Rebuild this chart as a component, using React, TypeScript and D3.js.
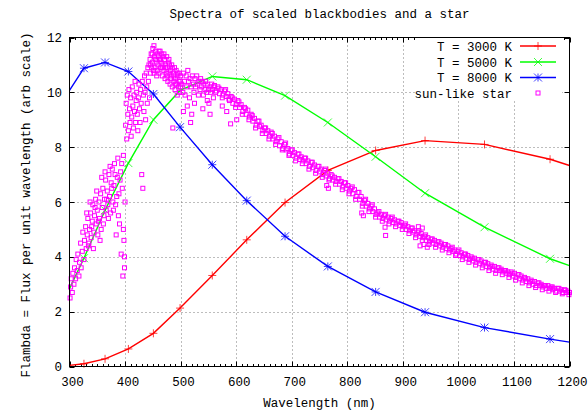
import React from "react";
import * as d3 from "d3";

const W = 588;
const H = 412;

const titleText = "Spectra of scaled blackbodies and a star";
const xLabelText = "Wavelength (nm)";
const yLabelText = "Flambda = Flux per unit wavelength (arb scale)";

const xTicks = [300, 400, 500, 600, 700, 800, 900, 1000, 1100, 1200];
const yTicks = [0, 2, 4, 6, 8, 10, 12];

// Sampled wavelengths of blackbody curves (first/last are the plot-edge values)
const bbWavelength = [300, 326, 364, 406, 451, 499, 557, 619, 688, 765, 851, 940, 1047, 1165, 1200];
const flux3000 = [0.04, 0.1, 0.28, 0.64, 1.21, 2.13, 3.32, 4.62, 5.98, 7.15, 7.88, 8.24, 8.1, 7.56, 7.33];
const flux5000 = [2.84, 3.95, 5.7, 7.42, 9.0, 10.07, 10.58, 10.46, 9.88, 8.9, 7.65, 6.32, 5.08, 3.93, 3.68];
const flux8000 = [10.07, 10.88, 11.09, 10.76, 9.94, 8.73, 7.36, 6.05, 4.75, 3.65, 2.72, 1.98, 1.42, 1.0, 0.89];

const seriesLabels = ["T = 3000 K", "T = 5000 K", "T = 8000 K", "sun-like star"];

// sun-like star spectrum [wavelength nm, flux]
const starPoints: [number, number][] = [
  [301,2.5],[302,2.9],[303,3.2],[305,2.7],[306,3.4],[308,3.0],[309,3.6],[311,3.2],[312,3.9],[314,3.5],[315,4.1],[317,3.3],[318,3.8],[320,4.5],[321,3.6],[323,4.2],[324,4.9],[326,3.9],[327,4.6],[329,5.1],[330,4.3],
  [332,4.8],[333,5.4],[335,4.5],[336,5.0],[338,5.6],[339,4.7],[341,5.3],[342,5.9],[344,4.9],[345,5.5],[347,6.1],[348,5.2],[350,5.7],[351,4.8],[353,6.0],[354,5.4],[356,6.3],[357,5.0],[359,5.8],[360,6.5],[362,5.5],[363,6.1],[365,6.8],[366,5.7],[368,6.4],[369,5.9],[371,7.0],[372,6.2],[374,5.6],[375,6.7],[377,7.2],[378,6.0],[380,6.6],[381,7.4],[383,5.9],[384,4.8],[386,6.9],[387,7.6],[389,6.3],[390,5.2],[392,7.1],[393,4.1],[395,6.5],[396,3.3],[397,7.7],[398,4.6],[399,3.6],[400,6.0],
  [401,8.8],[402,9.6],[403,8.3],[404,9.9],[405,9.2],[406,8.6],[407,10.1],[408,9.4],[409,8.9],[410,9.8],[411,8.4],[412,9.1],[413,10.2],[414,9.5],[415,8.7],[416,9.9],[417,9.3],[418,10.4],[419,8.9],[420,9.7],[421,10.0],[422,9.2],[423,8.6],[424,9.8],[425,10.3],[426,9.4],[427,8.9],[428,10.1],[429,9.6],[430,7.0],[431,10.4],[432,6.5],[433,9.9],[434,9.3],[435,10.6],[436,10.0],[437,9.0],[438,10.7],[439,10.2],[440,9.6],[441,10.9],[442,10.4],[443,11.0],[444,9.8],
  [445,11.2],[446,10.7],[447,11.4],[448,10.9],[449,11.1],[450,11.6],[451,10.8],[452,11.7],[453,11.3],[454,10.9],[455,11.5],[456,11.1],[457,10.6],[458,11.4],[459,11.0],[460,11.3],[461,10.7],[462,11.2],[463,11.5],[464,10.9],[465,11.1],[466,11.4],[467,10.6],[468,11.0],[469,11.3],[470,10.8],[471,11.2],[472,10.5],[473,11.0],[474,10.7],[475,11.3],[476,10.9],[477,10.4],[478,11.1],[479,10.7],[480,11.0],[481,10.3],[482,10.8],[483,10.6],[484,11.0],[485,10.2],[486,8.7],[487,10.7],[488,10.4],[489,10.9],[490,10.1],[491,10.5],[492,10.8],[493,10.3],[494,9.9],[495,10.6],[496,10.2],[497,10.7],[498,10.0],[499,10.4],[500,10.6],
  [502,10.3],[504,10.0],[505,10.7],[507,10.4],[508,9.9],[510,10.6],[511,10.2],[513,10.8],[514,10.4],[516,9.8],[517,10.5],[518,8.9],[519,10.2],[520,9.2],[521,10.6],[523,10.3],[524,10.0],[526,10.5],[527,10.2],[529,10.6],[530,10.3],[532,9.9],[533,10.4],[535,10.1],[536,10.5],[538,10.2],[539,10.4],[541,9.9],[542,10.3],[544,10.1],[545,10.4],[547,10.0],[548,10.3],[550,10.1],[551,9.6],[553,10.2],[554,10.0],[556,10.3],[557,10.1],[559,9.8],[560,10.2],
  [561,10.25],[564,10.05],[567,10.2],[570,9.95],[573,10.1],[576,9.9],[579,10.05],[582,9.85],[585,9.95],[588,9.7],[590,8.85],[591,9.85],[594,9.6],[597,9.75],[600,9.55],[601,9.0],[603,9.7],[606,9.45],[609,9.55],[612,9.3],[615,9.45],[618,9.2],[621,9.35],[624,9.1],[627,9.2],[630,8.95],[633,9.05],[636,8.8],[639,8.95],[642,8.75],[645,8.8],[648,8.6],[651,8.7],[654,8.5],[657,8.6],[660,8.4],[663,8.55],[666,8.3],[669,8.4],[672,8.2],[675,8.3],[678,8.05],[681,8.2],[684,7.95],[687,8.1],[690,7.9],[693,7.95],[696,7.75],[699,7.9],
  [702,7.7],[705,7.8],[708,7.6],[711,7.75],[714,7.55],[717,7.65],[720,7.5],[723,7.6],[726,7.4],[729,7.5],[732,7.3],[735,7.45],[738,7.25],[741,7.35],[744,7.15],[747,7.3],[750,7.1],[753,7.2],[756,7.0],[759,7.15],[762,6.95],[763,6.6],[765,7.05],[766,6.5],[768,6.85],[771,7.0],[774,6.8],[777,6.9],[780,6.75],[783,6.85],[786,6.65],[789,6.75],[792,6.55],[795,6.7],[798,6.5],
  [801,6.6],[804,6.4],[807,6.5],[810,6.3],[813,6.45],[816,6.2],[819,6.35],[822,6.1],[825,6.2],[826,5.6],[828,5.95],[829,5.5],[831,6.05],[834,5.85],[837,5.95],[840,5.75],[843,5.85],[846,5.65],[849,5.75],[852,5.55],[855,5.6],[858,5.45],[861,5.55],[864,5.4],[867,5.5],[868,5.08],[869,4.78],[870,5.35],[873,5.45],[876,5.3],[879,5.4],[882,5.25],[885,5.35],[888,5.2],[891,5.3],[894,5.15],[897,5.25],
  [900,5.1],[903,5.15],[906,5.0],[909,5.1],[912,4.95],[915,5.05],[918,4.9],[921,4.95],[924,4.8],[927,4.9],[928,5.1],[930,4.75],[931,4.4],[933,4.85],[935,5.05],[936,4.7],[938,4.45],[939,4.75],[942,4.6],[944,4.35],[945,4.7],[948,4.55],[951,4.65],[954,4.5],[957,4.6],[960,4.45],[963,4.55],[966,4.4],[969,4.5],[972,4.35],[975,4.45],[978,4.3],[981,4.4],[984,4.25],[987,4.3],[990,4.2],[993,4.25],[996,4.1],[999,4.2],
  [1002,4.05],[1005,4.15],[1008,4.0],[1011,4.1],[1014,3.95],[1017,4.05],[1020,3.9],[1023,4.0],[1026,3.85],[1029,3.95],[1032,3.8],[1035,3.9],[1038,3.75],[1041,3.85],[1044,3.7],[1047,3.8],[1050,3.65],[1053,3.75],[1056,3.6],[1059,3.7],[1062,3.55],[1065,3.65],[1068,3.5],[1071,3.6],[1074,3.5],[1077,3.55],[1080,3.45],[1083,3.5],[1086,3.4],[1089,3.45],[1092,3.35],[1095,3.45],[1098,3.3],
  [1101,3.4],[1104,3.25],[1107,3.35],[1110,3.2],[1113,3.3],[1116,3.15],[1119,3.25],[1122,3.1],[1125,3.2],[1128,3.05],[1131,3.15],[1134,3.0],[1137,3.1],[1140,2.95],[1143,3.05],[1146,2.95],[1149,3.0],[1152,2.9],[1155,2.95],[1158,2.85],[1161,2.95],[1164,2.85],[1167,2.9],[1170,2.8],[1173,2.85],[1176,2.75],[1179,2.85],[1182,2.75],[1185,2.8],[1188,2.7],[1191,2.8],[1194,2.7],[1197,2.75],[1200,2.7],
];

// additional star samples (second pass of the spectrum, interleaved)
const starPointsExtra: [number, number][] = [
  [331,5.6],[334,4.4],[337,6.0],[340,5.1],[343,4.3],[346,5.8],[349,6.4],[352,5.3],[355,4.6],[358,6.9],[361,5.2],[364,7.1],[367,6.1],[370,5.4],[373,7.3],[376,6.5],[379,5.7],[382,7.0],[385,6.2],[388,5.5],[391,6.8],[394,7.4],[397,5.0],[399,4.0],
  [446,11.0],[449,11.4],[452,10.7],[455,11.2],[458,10.8],[461,11.5],[464,11.2],[467,10.9],[470,11.4],[473,10.9],[476,10.6],[479,11.2],[482,10.5],[485,10.9],[488,10.6],[491,10.3],[494,10.7],[497,10.4],[500,10.2],
  [505,9.3],[512,9.5],[525,9.6],[540,9.4],[548,9.7],[553,9.2],[575,9.5],[583,9.3],
  [563,10.0],[569,10.15],[575,9.8],[581,10.1],[587,9.75],[593,9.8],[599,9.45],[605,9.65],[611,9.2],[617,9.4],[623,9.0],[629,9.15],[635,8.7],[641,8.95],[647,8.5],[653,8.7],[659,8.3],[665,8.5],[671,8.1],[677,8.35],[683,7.9],[689,8.15],[695,7.7],
  [701,7.9],[707,7.5],[713,7.75],[719,7.4],[725,7.6],[731,7.2],[737,7.45],[743,7.05],[749,7.3],[755,6.9],[761,7.2],[767,6.8],[773,6.95],[779,6.65],[785,6.85],[791,6.45],[797,6.7],
  [803,6.3],[809,6.55],[815,6.1],[821,6.35],[827,5.85],[833,6.1],[839,5.65],[845,5.9],[851,5.45],[857,5.65],[863,5.3],[869,5.55],[875,5.2],[881,5.45],[887,5.1],[893,5.3],[899,5.0],
  [905,5.2],[911,4.85],[917,5.05],[923,4.7],[929,4.95],[935,4.6],[941,4.8],[947,4.45],[953,4.65],[959,4.35],[965,4.55],[971,4.25],[977,4.45],[983,4.15],[989,4.35],[995,4.05],
  [1001,4.25],[1007,3.9],[1013,4.1],[1019,3.8],[1025,3.95],[1031,3.7],[1037,3.9],[1043,3.6],[1049,3.8],[1055,3.5],[1061,3.65],[1067,3.4],[1073,3.6],[1079,3.35],[1085,3.5],[1091,3.25],[1097,3.4],
  [1103,3.15],[1109,3.35],[1115,3.05],[1121,3.2],[1127,2.95],[1133,3.1],[1139,2.88],[1145,3.05],[1151,2.8],[1157,2.95],[1163,2.75],[1169,2.9],[1175,2.7],[1181,2.85],[1187,2.65],[1193,2.78],[1199,2.62],
];

const PL = 69.5, PR = 569.5, PT = 37.5, PB = 366.5;
const FONT = "'Liberation Mono', 'DejaVu Sans Mono', monospace";
const FS = 12.5;

function Marker({ kind, x, y, color }: { kind: string; x: number; y: number; color: string }) {
  const s = 4;
  const plus = `M${x - s},${y}H${x + s}M${x},${y - s}V${y + s}`;
  const cross = `M${x - s},${y - s}L${x + s},${y + s}M${x - s},${y + s}L${x + s},${y - s}`;
  const d = kind === "plus" ? plus : kind === "cross" ? cross : plus + cross;
  return <path d={d} stroke={color} strokeWidth={1} strokeOpacity={0.75} fill="none" />;
}

export default function App() {
  const x = d3.scaleLinear().domain([300, 1200]).range([PL, PR]);
  const y = d3.scaleLinear().domain([0, 12]).range([PB, PT]);
  const line = d3
    .line<[number, number]>()
    .x((d) => x(d[0]))
    .y((d) => y(d[1]));

  const series = [
    { vals: flux3000, color: "#ff0000", kind: "plus" },
    { vals: flux5000, color: "#00ff00", kind: "cross" },
    { vals: flux8000, color: "#0000ff", kind: "star" },
  ];

  const minor = d3.range(310, 1200, 10).filter((v) => v % 100 !== 0);
  const legendRows = [46, 62, 77.5, 93];
  const allStar = starPoints.concat(starPointsExtra);

  return (
    <svg width={W} height={H} style={{ display: "block", position: "absolute", left: 0, top: 0 }} fontFamily={FONT} fontSize={FS}>
      <rect width={W} height={H} fill="#fff" />
      <g stroke="#7a7a7a" strokeWidth={1} strokeDasharray="1,3">
        {xTicks.slice(1, -1).map((t) => (
          <line key={"gx" + t} x1={Math.round(x(t)) + 0.5} x2={Math.round(x(t)) + 0.5} y1={PT} y2={PB} />
        ))}
        {yTicks.slice(1, -1).map((t) => (
          <line key={"gy" + t} x1={PL} x2={PR} y1={Math.round(y(t)) + 0.5} y2={Math.round(y(t)) + 0.5} />
        ))}
      </g>
      <g stroke="#000" strokeWidth={1}>
        {xTicks.map((t) => {
          const px = Math.round(x(t)) + 0.5;
          return (
            <g key={"tx" + t}>
              <line x1={px} x2={px} y1={PB} y2={PB - 5} />
              <line x1={px} x2={px} y1={PT} y2={PT + 5} />
            </g>
          );
        })}
        {minor.map((t) => {
          const px = Math.round(x(t)) + 0.5;
          return (
            <g key={"mx" + t}>
              <line x1={px} x2={px} y1={PB} y2={PB - 2.5} />
              <line x1={px} x2={px} y1={PT} y2={PT + 2.5} />
            </g>
          );
        })}
        {yTicks.map((t) => {
          const py = Math.round(y(t)) + 0.5;
          return (
            <g key={"ty" + t}>
              <line x1={PL} x2={PL + 5} y1={py} y2={py} />
              <line x1={PR} x2={PR - 5} y1={py} y2={py} />
            </g>
          );
        })}
      </g>
      {xTicks.map((t) => (
        <text key={"lx" + t} x={x(t) + 3} y={386} textAnchor="middle" fill="#000">
          {t}
        </text>
      ))}
      {yTicks.map((t) => (
        <text key={"ly" + t} x={62} y={y(t) + 4.5} textAnchor="end" fill="#000">
          {t}
        </text>
      ))}
      {series.map((s, i) => {
        const pts = bbWavelength.map((w, j) => [w, s.vals[j]] as [number, number]);
        return (
          <g key={"s" + i}>
            <path d={line(pts) || ""} fill="none" stroke={s.color} strokeWidth={1.4} />
            {pts.slice(1, -1).map((p, j) => (
              <Marker key={j} kind={s.kind} x={x(p[0])} y={y(p[1])} color={s.color} />
            ))}
          </g>
        );
      })}
      <g fill="none" stroke="#ff00ff" strokeWidth={1}>
        {allStar.map((p, i) => (
          <rect key={i} x={x(p[0]) - 2} y={y(p[1]) - 2} width={4} height={4} />
        ))}
      </g>
      <rect x={417} y={38} width={145} height={63} fill="#fff" />
      {seriesLabels.map((lab, i) => (
        <text key={"lg" + i} x={512} y={legendRows[i] + 4.5} textAnchor="end" fill="#000">
          {lab}
        </text>
      ))}
      {series.map((s, i) => (
        <g key={"ls" + i}>
          <line x1={520} x2={556} y1={legendRows[i]} y2={legendRows[i]} stroke={s.color} strokeWidth={1.4} />
          <Marker kind={s.kind} x={538} y={legendRows[i]} color={s.color} />
        </g>
      ))}
      <rect x={536} y={legendRows[3] - 2} width={4} height={4} fill="none" stroke="#ff00ff" strokeWidth={1} />
      <rect x={PL} y={PT} width={PR - PL} height={PB - PT} fill="none" stroke="#000" strokeWidth={1} />
      <text x={(PL + PR) / 2} y={18} textAnchor="middle" fill="#000">
        {titleText}
      </text>
      <text x={(PL + PR) / 2} y={407} textAnchor="middle" fill="#000">
        {xLabelText}
      </text>
      <text transform={`translate(30,${(PT + PB) / 2 + 3}) rotate(-90)`} textAnchor="middle" fill="#000">
        {yLabelText}
      </text>
    </svg>
  );
}
